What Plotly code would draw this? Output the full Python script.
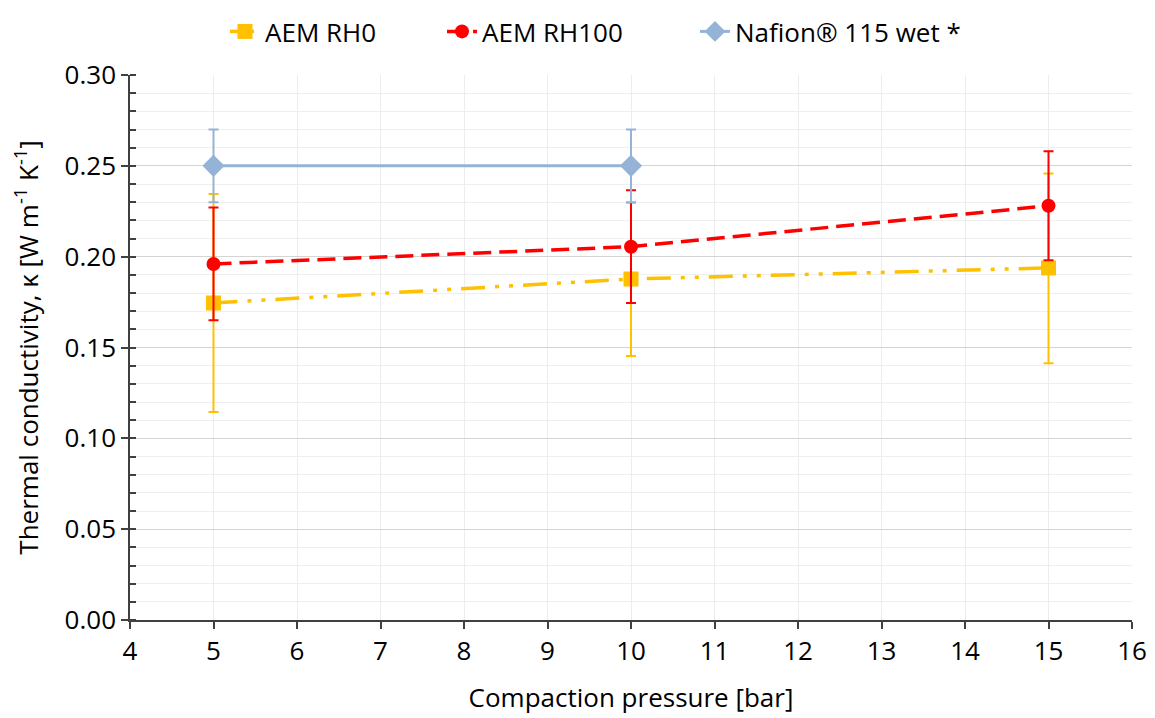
import plotly.graph_objects as go

pressure_rh0 = [5, 10, 15]
kappa_rh0 = [0.1745, 0.1877, 0.1938]
err_rh0_plus = [0.060, 0.042, 0.052]
err_rh0_minus = [0.060, 0.0424, 0.0525]

pressure_rh100 = [5, 10, 15]
kappa_rh100 = [0.196, 0.2055, 0.228]
err_rh100 = [0.031, 0.031, 0.030]

pressure_naf = [5, 10]
kappa_naf = [0.25, 0.25]
err_naf = [0.02, 0.02]

FONT = "Open Sans"
FS = 26
W, H = 1147, 710

fig = go.Figure()
fig.add_trace(go.Scatter(
    x=pressure_rh0, y=kappa_rh0, name="AEM RH0", mode="lines+markers",
    legend="legend",
    line=dict(color="#FFC000", width=3.5, dash="24px,10px,4px,10px,4px,10px"),
    marker=dict(symbol="square", size=15, color="#FFC000"),
    error_y=dict(type="data", array=err_rh0_plus, arrayminus=err_rh0_minus,
                 color="#FFC000", thickness=2, width=5),
))
fig.add_trace(go.Scatter(
    x=pressure_rh100, y=kappa_rh100, name="AEM RH100", mode="lines+markers",
    legend="legend2",
    line=dict(color="#FF0000", width=3.5, dash="18px,8px"),
    marker=dict(symbol="circle", size=14, color="#FF0000"),
    error_y=dict(type="data", array=err_rh100, color="#FF0000", thickness=2, width=5),
))
fig.add_trace(go.Scatter(
    x=pressure_naf, y=kappa_naf, name="Nafion® 115 wet *", mode="lines+markers",
    legend="legend3",
    line=dict(color="#95B3D7", width=3),
    marker=dict(symbol="diamond", size=17, color="#95B3D7"),
    error_y=dict(type="data", array=err_naf, color="#95B3D7", thickness=2, width=5),
))


def leg(xpx):
    return dict(orientation="h", xref="container", x=xpx / W, xanchor="left",
                yref="container", y=1.0, yanchor="top",
                font=dict(size=FS, family=FONT), bgcolor="rgba(0,0,0,0)")


fig.update_layout(
    width=W, height=H,
    margin=dict(l=122, r=23, t=67, b=98, autoexpand=False),
    paper_bgcolor="white", plot_bgcolor="white",
    font=dict(family=FONT, size=FS, color="#000000"),
    legend=leg(217), legend2=leg(434), legend3=leg(687),
    showlegend=True,
)

fig.update_xaxes(
    range=[4, 16], tick0=4, dtick=1, ticks="outside", ticklen=7, tickwidth=1.5,
    tickcolor="#404040", showline=True, linecolor="#404040", linewidth=1.5,
    showgrid=True, gridcolor="#ECECEC", gridwidth=1, zeroline=False,
    automargin=False,
    title=dict(text="Compaction pressure [bar]", font=dict(size=FS), standoff=22),
    tickfont=dict(size=FS),
)
fig.update_yaxes(
    range=[0, 0.30], tick0=0, dtick=0.05, tickformat=".2f", ticks="outside",
    ticklen=7, tickwidth=1.5, tickcolor="#404040", showline=True,
    linecolor="#404040", linewidth=1.5, showgrid=True, gridcolor="#D4D4D4",
    gridwidth=1.2, zeroline=False, automargin=False,
    minor=dict(dtick=0.01, showgrid=True, gridcolor="#EFEFEF", ticks="inside",
               ticklen=6, tickcolor="#404040"),
    title=dict(text="Thermal conductivity, κ [W m<sup>-1</sup> K<sup>-1</sup>]",
               font=dict(size=FS), standoff=19),
    tickfont=dict(size=FS),
)

fig.write_html("out.html")
